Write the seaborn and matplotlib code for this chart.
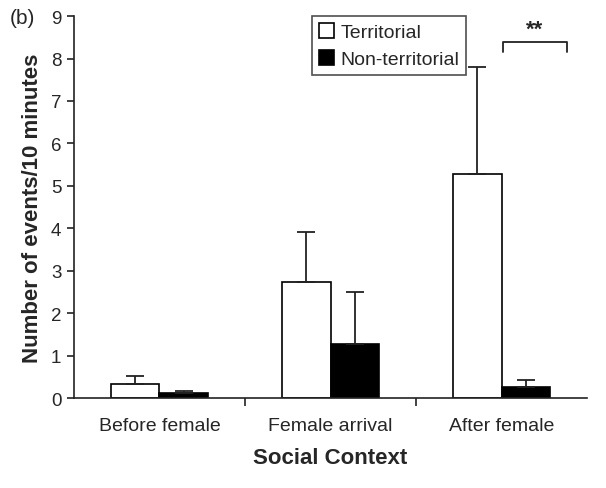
import matplotlib
matplotlib.use("Agg")
import matplotlib.pyplot as plt
import numpy as np
import pandas as pd
import seaborn as sns

contexts = ["Before female", "Female arrival", "After female"]
groups = ["Territorial", "Non-territorial"]
territorial_mean = [0.33, 2.74, 5.28]
territorial_se = [0.18, 1.17, 2.52]
nonterritorial_mean = [0.11, 1.27, 0.27]
nonterritorial_se = [0.06, 1.23, 0.15]

df = pd.DataFrame({
    "context": contexts * 2,
    "group": [groups[0]] * 3 + [groups[1]] * 3,
    "mean": territorial_mean + nonterritorial_mean,
    "se": territorial_se + nonterritorial_se,
})

sns.set_style("ticks")
plt.rcParams["font.family"] = ["Liberation Sans", "DejaVu Sans"]

fig = plt.figure(figsize=(6.06, 4.89), dpi=100)
ax = fig.add_axes([0.122, 0.184, 0.847, 0.781])

sns.barplot(
    data=df, x="context", y="mean", hue="group", order=contexts,
    hue_order=groups, palette=["white", "black"], edgecolor="black",
    linewidth=1.2, width=0.57, errorbar=None, ax=ax,
)

# upward-only error bars
for container, g in zip(ax.containers, groups):
    sub = df[df["group"] == g].set_index("context").loc[contexts]
    xs = [p.get_x() + p.get_width() / 2 for p in container.patches]
    ax.errorbar(xs, sub["mean"], yerr=[np.zeros(3), sub["se"]], fmt="none",
                ecolor="#222222", elinewidth=1.3, capsize=6.5, capthick=1.3,
                zorder=3)

ax.set_xlim(-0.5, 2.5)
ax.set_ylim(0, 9)
ax.set_yticks(range(10))
ax.set_xticks([0, 1, 2])
ax.set_xticklabels(contexts, fontsize=14)
ax.set_xticks([0.5, 1.5], minor=True)
ax.tick_params(axis="x", which="major", length=0, pad=14)
ax.tick_params(axis="x", which="minor", length=6, width=1.2, color="#222222")
ax.tick_params(axis="y", length=5, width=1.2, labelsize=13.5, color="#222222",
               pad=4)
for s in ["left", "bottom"]:
    ax.spines[s].set_linewidth(1.2)
    ax.spines[s].set_color("#222222")
sns.despine(ax=ax)

ax.set_xlabel("Social Context", fontsize=16, fontweight="bold", labelpad=9)
ax.set_ylabel("Number of events/10 minutes", fontsize=16, fontweight="bold",
              labelpad=6)

leg = ax.legend(loc="upper left", bbox_to_anchor=(0.464, 1.0), fontsize=14,
                frameon=True, fancybox=False, edgecolor="#222222",
                handlelength=0.8, handleheight=0.8, handletextpad=0.3,
                borderpad=0.35, labelspacing=0.45, borderaxespad=0)
leg.get_frame().set_linewidth(1.2)

# significance bracket over After female
x0, x1 = 2.01, 2.38
ax.plot([x0, x0, x1, x1], [8.15, 8.4, 8.4, 8.15], color="#222222", lw=1.3,
        clip_on=False)
ax.text((x0 + x1) / 2, 8.45, "**", ha="center", va="bottom", fontsize=16,
        fontweight="bold")

fig.text(0.016, 0.962, "(b)", fontsize=15, va="center")

fig.savefig("out.png", dpi=100)
